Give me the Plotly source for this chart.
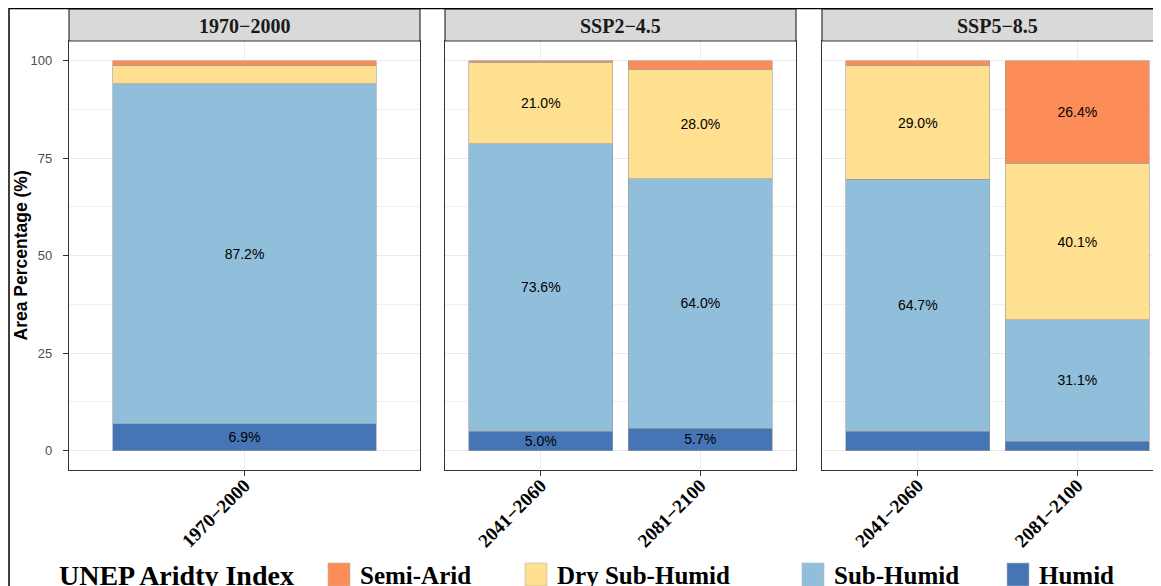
import plotly.graph_objects as go

W, H = 1161, 586

# ---------------- data ----------------
scenarios = ["1970−2000", "SSP2−4.5", "SSP5−8.5"]
periods = [["1970−2000"], ["2041−2060", "2081−2100"], ["2041−2060", "2081−2100"]]
classes = ["Humid", "Sub-Humid", "Dry Sub-Humid", "Semi-Arid"]  # bottom -> top
colors = {"Semi-Arid": "#FC8D59", "Dry Sub-Humid": "#FEE090",
          "Sub-Humid": "#91BFDB", "Humid": "#4575B4"}
humid = [[6.9], [5.0, 5.7], [4.9, 2.4]]
sub_humid = [[87.2], [73.6, 64.0], [64.7, 31.1]]
dry_sub_humid = [[4.5], [21.0, 28.0], [29.0, 40.1]]
semi_arid = [[1.4], [0.4, 2.3], [1.4, 26.4]]
values = {"Humid": humid, "Sub-Humid": sub_humid,
          "Dry Sub-Humid": dry_sub_humid, "Semi-Arid": semi_arid}
legend_title = "UNEP Aridty Index"
legend_order = ["Semi-Arid", "Dry Sub-Humid", "Sub-Humid", "Humid"]
y_ticks = [0, 25, 50, 75, 100]

# ---------------- layout geometry (page px; page has an 8px body margin) ----------------
OX, OY = 8, 8


def px_x(x):
    return (x - OX) / W


def px_y(y):
    return 1 - (y - OY) / H


panel_w = 351
panel_x = [69, 445, 822]
panel_top, panel_bot = 41, 470
strip_top = 9
unit3 = panel_w / 2.2
x_ranges = [[-0.6, 0.6], [-0.6, 1.6], [-0.6, -0.6 + (W + OX - 822) / unit3]]

SERIF = "Liberation Serif"
SANS = "Liberation Sans"

fig = go.Figure()

for i, scen in enumerate(scenarios):
    xa = "x" if i == 0 else f"x{i+1}"
    ya = "y" if i == 0 else f"y{i+1}"
    for cls in classes:
        vals = values[cls][i]
        texts = [f"{v:.1f}%" if v >= 5 else "" for v in vals]
        fig.add_trace(go.Bar(
            x=periods[i], y=vals, name=cls, xaxis=xa, yaxis=ya,
            width=0.9,
            marker=dict(color=colors[cls], line=dict(color="#9A9A9A", width=0.6)),
            text=texts, textposition="inside", insidetextanchor="middle",
            textangle=0, constraintext="none",
            textfont=dict(family=SANS, size=14, color="#000000"),
            showlegend=False, hoverinfo="skip",
        ))

layout = dict(
    width=W, height=H, autosize=False, barmode="stack",
    margin=dict(l=0, r=0, t=0, b=0),
    paper_bgcolor="white", plot_bgcolor="white",
    showlegend=False,
)

for i in range(3):
    xk = "xaxis" if i == 0 else f"xaxis{i+1}"
    yk = "yaxis" if i == 0 else f"yaxis{i+1}"
    layout[xk] = dict(
        domain=[px_x(panel_x[i]), min(1.0, px_x(panel_x[i] + panel_w))],
        anchor="y" if i == 0 else f"y{i+1}",
        type="category", range=x_ranges[i],
        showgrid=True, gridcolor="#EBEBEB", gridwidth=1.1,
        showline=True, mirror=True, linecolor="#333333", linewidth=1.2,
        ticks="outside", ticklen=5, tickcolor="#333333", tickwidth=1.1,
        tickangle=-45, ticklabelstandoff=-9,
        tickfont=dict(family=SERIF, size=19, color="#000000", weight="bold"),
        zeroline=False, fixedrange=True,
    )
    layout[yk] = dict(
        domain=[px_y(panel_bot), px_y(panel_top)],
        anchor="x" if i == 0 else f"x{i+1}",
        range=[-5, 105],
        tickvals=y_ticks,
        showgrid=True, gridcolor="#EBEBEB", gridwidth=1.1,
        minor=dict(showgrid=True, gridcolor="#F0F0F0", gridwidth=0.6,
                   tick0=12.5, dtick=25),
        showline=True, mirror=True, linecolor="#333333", linewidth=1.2,
        zeroline=False, fixedrange=True,
        ticks="outside" if i == 0 else "", ticklen=5, tickcolor="#333333",
        tickwidth=1.1,
        showticklabels=(i == 0),
        ticklabelstandoff=8,
        tickfont=dict(family=SANS, size=13, color="#4D4D4D"),
    )
    if i > 0:
        layout[yk]["matches"] = "y"

fig.update_layout(**layout)

shapes = []
annotations = []

# strips
for i, scen in enumerate(scenarios):
    x0 = px_x(panel_x[i])
    x1 = px_x(panel_x[i] + panel_w) if i < 2 else 1.05
    shapes.append(dict(type="rect", xref="paper", yref="paper",
                       x0=x0, x1=x1, y0=px_y(panel_top), y1=px_y(strip_top),
                       fillcolor="#D9D9D9", line=dict(color="#333333", width=1.2),
                       layer="above"))
    xc = panel_x[i] + panel_w / 2
    annotations.append(dict(text=scen, xref="paper", yref="paper",
                            x=px_x(xc), y=px_y((strip_top + panel_top) / 2 + 1),
                            xanchor="center", yanchor="middle", showarrow=False,
                            font=dict(family=SERIF, size=20, color="#1A1A1A", weight="bold")))

# y axis title
annotations.append(dict(text="Area Percentage (%)", xref="paper", yref="paper",
                        x=px_x(20), y=px_y((panel_top + panel_bot) / 2),
                        xanchor="center", yanchor="middle", textangle=-90,
                        showarrow=False,
                        font=dict(family=SANS, size=17.5, color="#000000", weight="bold")))

# figure frame
shapes.append(dict(type="rect", xref="paper", yref="paper",
                   x0=px_x(9), x1=1.05, y0=-0.05, y1=px_y(8.5),
                   line=dict(color="#000000", width=1.5), fillcolor="rgba(0,0,0,0)",
                   layer="above"))

# custom legend
legend_y = 575
annotations.append(dict(text=legend_title, xref="paper", yref="paper",
                        x=px_x(57), y=px_y(legend_y), xanchor="left", yanchor="middle",
                        showarrow=False,
                        font=dict(family=SERIF, size=28, color="#000000", weight="bold")))
key_x = [328, 525, 802, 1007]
for cls, kx in zip(legend_order, key_x):
    shapes.append(dict(type="rect", xref="paper", yref="paper",
                       x0=px_x(kx), x1=px_x(kx + 22), y0=px_y(586), y1=px_y(563),
                       fillcolor=colors[cls], line=dict(color="#BBBBBB", width=0.6)))
    annotations.append(dict(text=cls, xref="paper", yref="paper",
                            x=px_x(kx + 30), y=px_y(legend_y), xanchor="left",
                            yanchor="middle", showarrow=False,
                            font=dict(family=SERIF, size=25, color="#000000", weight="bold")))

fig.update_layout(shapes=shapes, annotations=annotations)

fig.write_html("out.html")
